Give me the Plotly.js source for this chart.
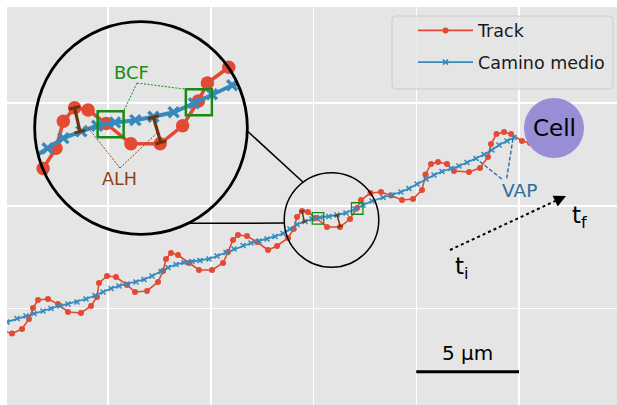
<!DOCTYPE html>
<html><head><meta charset="utf-8">
<script src="https://cdn.plot.ly/plotly-3.0.1.min.js"></script>
<style>html,body{margin:0;padding:0;background:#fff}#chart{width:617px;height:405px}</style>
</head><body><div id="chart"></div>
<script>
// ---- data (µm) ----
const trackX = [-0.158,0.328,0.815,1.156,1.350,1.594,2.080,2.567,3.054,3.686,4.173,4.465,4.562,4.951,5.389,5.925,6.314,6.898,7.433,7.676,7.822,8.066,8.406,8.942,9.428,10.061,10.596,10.839,11.083,11.326,11.764,12.251,12.786,13.224,13.759,14.037,14.197,14.440,14.732,15.122,15.657,16.290,16.776,17.117,17.311,17.774,18.285,18.771,19.307,19.842,20.280,20.450,20.718,21.058,21.496,21.837,22.567,23.102,23.492,23.638,23.905,24.270,24.611,25.146,25.535];
const trackY = [3.929,3.783,4.002,4.489,5.024,5.414,5.462,5.219,4.830,4.781,5.122,5.560,6.241,6.581,6.533,6.144,5.803,5.852,6.290,6.825,7.409,7.701,7.603,7.214,6.873,6.873,7.214,7.749,8.333,8.577,8.528,8.236,7.847,8.041,8.431,8.869,9.453,9.745,9.696,9.404,8.966,8.966,9.355,9.890,10.280,10.620,10.669,10.499,10.280,10.328,10.766,11.521,12.032,12.129,12.032,11.691,11.642,11.837,12.372,13.005,13.491,13.589,13.491,13.151,13.053];
const meanX = [-0.304,0.085,0.572,1.010,1.399,1.837,2.226,2.664,3.054,3.491,3.929,4.367,4.757,5.146,5.535,5.925,6.363,6.752,7.141,7.579,7.920,8.309,8.698,9.088,9.477,9.915,10.304,10.742,11.131,11.569,11.959,12.348,12.737,13.127,13.516,13.856,14.197,14.586,14.927,15.316,15.754,16.144,16.582,17.020,17.409,17.847,18.382,18.820,19.258,19.647,20.037,20.475,20.864,21.253,21.691,22.080,22.470,22.908,23.297,23.686,24.027,24.416,24.757];
const meanY = [4.221,4.343,4.513,4.635,4.757,4.878,5.000,5.122,5.219,5.316,5.462,5.633,5.803,5.973,6.095,6.192,6.290,6.411,6.581,6.800,6.995,7.141,7.238,7.287,7.336,7.409,7.555,7.725,7.895,8.066,8.187,8.285,8.382,8.504,8.650,8.869,9.088,9.234,9.355,9.428,9.477,9.550,9.647,9.842,10.036,10.231,10.401,10.523,10.669,10.839,11.058,11.302,11.496,11.667,11.813,11.934,12.105,12.299,12.494,12.713,12.956,13.151,13.321];
// BCF crossings (box centres)
const bcfX = [15.219, 17.127];
const bcfY = [9.389, 9.866];
// ALH bars: track end -> mean path end
const alhX1 = [14.440, 16.144], alhY1 = [9.745, 9.540];
const alhX2 = [14.557, 16.304], alhY2 = [9.229, 8.995];
// VAP pointer targets on mean path
const vapTargetX = [23.005, 24.723], vapTargetY = [12.226, 13.360];
// cell
const cellX = 26.703, cellY = 13.783, cellR = 1.46;
// time arrow
const arrowStart = [21.642, 7.847], arrowEnd = [27.287, 10.474];
// scale bar (5 µm)
const scaleX = [20, 25], scaleY = 1.925;
// zoom region
const zoomC = [15.876, 9.307], zoomR = 2.3, MAG = 2.25;
const insetC = [6.606, 13.783];
const labels = {track:'Track', mean:'Camino medio', cell:'Cell', vap:'VAP', bcf:'BCF', alh:'ALH', scale:'5 µm', ti:'t<sub>i</sub>', tf:'t<sub>f</sub>'};

// ---- layout geometry ----
const W = 617, H = 405, ML = 7, MT = 7;
const PW = W - ML, PH = H - MT;
const PXU = 20.55; // px per µm
const xr = [0.085, 0.085 + PW/PXU];
const yr = [0.304, 0.304 + PH/PXU];
const x2r = xr.map(v => zoomC[0] + (v - insetC[0]) / MAG);
const y2r = yr.map(v => zoomC[1] + (v - insetC[1]) / MAG);
const px2paperX = px => (px - ML) / PW;
const px2paperY = py => (H - py) / PH;

const RED = '#E24A33', BLUE = '#348ABD', GREEN = '#178a17', BROWN = '#8B4513', DBROWN = '#6e320c', VAPC = '#2d6c9c';

function clipLine(xs, ys, cx, cy, r) {
  const ox = [], oy = []; let open = false;
  for (let i = 0; i < xs.length - 1; i++) {
    const px = xs[i], py = ys[i], qx = xs[i+1], qy = ys[i+1];
    const dx = qx-px, dy = qy-py, fx = px-cx, fy = py-cy;
    const a = dx*dx+dy*dy, b = 2*(fx*dx+fy*dy), c = fx*fx+fy*fy-r*r;
    const disc = b*b-4*a*c;
    if (disc <= 0) { if (open) { ox.push(null); oy.push(null); open = false; } continue; }
    const s = Math.sqrt(disc);
    const ta = Math.max(0, (-b-s)/(2*a)), tb = Math.min(1, (-b+s)/(2*a));
    if (ta >= tb) { if (open) { ox.push(null); oy.push(null); open = false; } continue; }
    if (!open || ta > 0) {
      if (open) { ox.push(null); oy.push(null); }
      ox.push(px+ta*dx); oy.push(py+ta*dy); open = true;
    }
    ox.push(px+tb*dx); oy.push(py+tb*dy);
    if (tb < 1) { ox.push(null); oy.push(null); open = false; }
  }
  return [ox, oy];
}
function inside(xs, ys, cx, cy, r) {
  const ox = [], oy = [];
  xs.forEach((x, i) => { if (Math.hypot(x-cx, ys[i]-cy) <= r) { ox.push(x); oy.push(ys[i]); } });
  return [ox, oy];
}
function bars(x1, y1, x2, y2) {
  const x = [], y = [], ang = [];
  x1.forEach((v, i) => {
    const a = Math.atan2(-(x2[i]-v), (y1[i]-y2[i])) * 180/Math.PI;
    x.push(v, x2[i], null); y.push(y1[i], y2[i], null); ang.push(a, a, 0);
  });
  return {x, y, ang};
}

const trIn = clipLine(trackX, trackY, zoomC[0], zoomC[1], zoomR);
const trPts = inside(trackX, trackY, zoomC[0], zoomC[1], zoomR * 1.01);
const mnIn = clipLine(meanX, meanY, zoomC[0], zoomC[1], zoomR);
const mnPts = inside(meanX, meanY, zoomC[0], zoomC[1], zoomR);
const alh = bars(alhX1, alhY1, alhX2, alhY2);

const traces = [
  {x: trackX, y: trackY, mode: 'lines+markers', name: labels.track, legendgroup: 'a',
   line: {color: RED, width: 1.6}, marker: {color: RED, size: 6}},
  {x: meanX, y: meanY, mode: 'lines+markers', name: labels.mean, legendgroup: 'b',
   line: {color: BLUE, width: 1.8}, marker: {symbol: 'x-thin', size: 5, color: BLUE, line: {color: BLUE, width: 1.6}}},
  {x: alh.x, y: alh.y, mode: 'lines+markers', showlegend: false, hoverinfo: 'skip',
   line: {color: DBROWN, width: 1.5}, marker: {symbol: 'line-ew', size: 4, angle: alh.ang, line: {color: DBROWN, width: 1.5}}},
  {x: bcfX, y: bcfY, mode: 'markers', showlegend: false, hoverinfo: 'skip',
   marker: {symbol: 'square-open', size: 11.5, color: GREEN, line: {color: GREEN, width: 1.3}}},
  // inset (magnified)
  {x: trIn[0], y: trIn[1], xaxis: 'x2', yaxis: 'y2', mode: 'lines', showlegend: false, hoverinfo: 'skip',
   line: {color: RED, width: 3.5}},
  {x: trPts[0], y: trPts[1], xaxis: 'x2', yaxis: 'y2', mode: 'markers', showlegend: false, hoverinfo: 'skip',
   marker: {color: RED, size: 13.5}},
  {x: mnIn[0], y: mnIn[1], xaxis: 'x2', yaxis: 'y2', mode: 'lines', showlegend: false, hoverinfo: 'skip',
   line: {color: BLUE, width: 4}},
  {x: mnPts[0], y: mnPts[1], xaxis: 'x2', yaxis: 'y2', mode: 'markers', showlegend: false, hoverinfo: 'skip',
   marker: {symbol: 'x-thin', size: 10, color: BLUE, line: {color: BLUE, width: 3.4}}},
  {x: alh.x, y: alh.y, xaxis: 'x2', yaxis: 'y2', mode: 'lines+markers', showlegend: false, hoverinfo: 'skip',
   line: {color: DBROWN, width: 3.2}, marker: {symbol: 'line-ew', size: 8, angle: alh.ang, line: {color: DBROWN, width: 3}}},
  {x: bcfX, y: bcfY, xaxis: 'x2', yaxis: 'y2', mode: 'markers', showlegend: false, hoverinfo: 'skip',
   marker: {symbol: 'square-open', size: 26, color: GREEN, line: {color: GREEN, width: 2.5}}}
];

const h = 11.5 / 2 / PXU;
const bcfApex = [15.790, 10.280];
const alhApex = [15.422, 8.442];
const alhEnds = [[14.665, 9.394], [16.222, 9.199]];
const vapStart = [[24.158, 11.302], [24.401, 11.336]];

function onBig(theta) { const t = theta*Math.PI/180; return [insetC[0] + MAG*zoomR*Math.cos(t), insetC[1] + MAG*zoomR*Math.sin(t)]; }
function onSmall(theta) { const t = theta*Math.PI/180; return [zoomC[0] + zoomR*Math.cos(t), zoomC[1] + zoomR*Math.sin(t)]; }
const c1a = onBig(-1.6), c1b = onSmall(126.9), c2a = onBig(-63.7), c2b = onSmall(183.7);

function roundRect(x0, y0, x1, y1, r) {
  const X = px2paperX, Y = px2paperY;
  return `M${X(x0+r)},${Y(y0)} L${X(x1-r)},${Y(y0)} Q${X(x1)},${Y(y0)} ${X(x1)},${Y(y0+r)} ` +
         `L${X(x1)},${Y(y1-r)} Q${X(x1)},${Y(y1)} ${X(x1-r)},${Y(y1)} L${X(x0+r)},${Y(y1)} ` +
         `Q${X(x0)},${Y(y1)} ${X(x0)},${Y(y1-r)} L${X(x0)},${Y(y0+r)} Q${X(x0)},${Y(y0)} ${X(x0+r)},${Y(y0)} Z`;
}

const shapes = [
  {type: 'path', xref: 'paper', yref: 'paper', path: roundRect(392, 16, 613, 89, 4),
   fillcolor: 'rgba(229,229,229,0.8)', line: {color: '#cccccc', width: 1}},
  {type: 'circle', xref: 'x', yref: 'y', x0: cellX-cellR, x1: cellX+cellR, y0: cellY-cellR, y1: cellY+cellR,
   fillcolor: '#988ED5', line: {width: 0}},
  {type: 'circle', xref: 'x', yref: 'y', x0: zoomC[0]-zoomR, x1: zoomC[0]+zoomR, y0: zoomC[1]-zoomR, y1: zoomC[1]+zoomR,
   line: {color: '#000', width: 1.5}},
  {type: 'circle', xref: 'x2', yref: 'y2', x0: zoomC[0]-zoomR, x1: zoomC[0]+zoomR, y0: zoomC[1]-zoomR, y1: zoomC[1]+zoomR,
   line: {color: '#000', width: 2.8}},
  {type: 'line', xref: 'x', yref: 'y', x0: c1a[0], y0: c1a[1], x1: c1b[0], y1: c1b[1], line: {color: '#000', width: 1.5}},
  {type: 'line', xref: 'x', yref: 'y', x0: c2a[0], y0: c2a[1], x1: c2b[0], y1: c2b[1], line: {color: '#000', width: 1.5}},
  {type: 'line', xref: 'x2', yref: 'y2', x0: bcfApex[0], y0: bcfApex[1], x1: bcfX[0]+h, y1: bcfY[0]+h, line: {color: GREEN, width: 1, dash: '2px,1.5px'}},
  {type: 'line', xref: 'x2', yref: 'y2', x0: bcfApex[0], y0: bcfApex[1], x1: bcfX[1]-h, y1: bcfY[1]+h, line: {color: GREEN, width: 1, dash: '2px,1.5px'}},
  {type: 'line', xref: 'x2', yref: 'y2', x0: alhApex[0], y0: alhApex[1], x1: alhEnds[0][0], y1: alhEnds[0][1], line: {color: BROWN, width: 1, dash: '2px,1.5px'}},
  {type: 'line', xref: 'x2', yref: 'y2', x0: alhApex[0], y0: alhApex[1], x1: alhEnds[1][0], y1: alhEnds[1][1], line: {color: BROWN, width: 1, dash: '2px,1.5px'}},
  {type: 'line', xref: 'x', yref: 'y', x0: vapStart[0][0], y0: vapStart[0][1], x1: vapTargetX[0], y1: vapTargetY[0], line: {color: VAPC, width: 1.4, dash: '4px,2px'}},
  {type: 'line', xref: 'x', yref: 'y', x0: vapStart[1][0], y0: vapStart[1][1], x1: vapTargetX[1], y1: vapTargetY[1], line: {color: VAPC, width: 1.4, dash: '4px,2px'}},
  {type: 'line', xref: 'x', yref: 'y', x0: arrowStart[0], y0: arrowStart[1], x1: arrowEnd[0] - 0.25, y1: arrowEnd[1] - 0.116, line: {color: '#000', width: 2, dash: 'dot'}},
  {type: 'line', xref: 'x', yref: 'y', x0: scaleX[0], x1: scaleX[1], y0: scaleY, y1: scaleY, line: {color: '#000', width: 3}}
];

const F = 'DejaVu Sans, sans-serif';
const annotations = [
  {x: cellX, y: cellY, xref: 'x', yref: 'y', text: labels.cell, showarrow: false, font: {size: 23, color: '#000', family: F}},
  {x: 25.025, y: 10.766, xref: 'x', yref: 'y', text: labels.vap, showarrow: false, font: {size: 18.5, color: VAPC, family: F}},
  {x: 15.681, y: 10.497, xref: 'x2', yref: 'y2', text: labels.bcf, showarrow: false, font: {size: 18, color: GREEN, family: F}},
  {x: 15.400, y: 8.204, xref: 'x2', yref: 'y2', text: labels.alh, showarrow: false, font: {size: 17.6, color: BROWN, family: F}},
  {x: (scaleX[0]+scaleX[1])/2, y: 2.85, xref: 'x', yref: 'y', text: labels.scale, showarrow: false, font: {size: 20, color: '#000', family: F}},
  {x: 22.226, y: 6.971, xref: 'x', yref: 'y', text: labels.ti, showarrow: false, font: {size: 23, color: '#000', family: F}},
  {x: 27.920, y: 9.453, xref: 'x', yref: 'y', text: labels.tf, showarrow: false, font: {size: 23, color: '#000', family: F}},
  {x: arrowEnd[0], y: arrowEnd[1], ax: arrowEnd[0]-0.45, ay: arrowEnd[1]-0.21, xref: 'x', yref: 'y', axref: 'x', ayref: 'y',
   text: '', showarrow: true, arrowhead: 2, arrowsize: 1.5, arrowwidth: 1.6, arrowcolor: '#000', standoff: 0}
];

const axBase = {showgrid: true, gridcolor: '#ffffff', gridwidth: 1.5, zeroline: false, showline: false,
  showticklabels: false, ticks: '', dtick: 5, tick0: 0, autorange: false, fixedrange: true};
const layout = {
  width: W, height: H,
  margin: {l: ML, r: 0, t: MT, b: 0, pad: 0},
  paper_bgcolor: '#ffffff', plot_bgcolor: '#E5E5E5',
  font: {family: F, color: '#1a1a1a'},
  xaxis: Object.assign({}, axBase, {range: xr}),
  yaxis: Object.assign({}, axBase, {range: yr}),
  xaxis2: {overlaying: 'x', range: x2r, autorange: false, visible: false, fixedrange: true},
  yaxis2: {overlaying: 'y', range: y2r, autorange: false, visible: false, fixedrange: true},
  showlegend: true,
  legend: {x: px2paperX(413), y: px2paperY(12.5), xanchor: 'left', yanchor: 'top', bgcolor: 'rgba(0,0,0,0)',
    borderwidth: 0, font: {size: 17.5, color: '#1a1a1a', family: F},
    tracegroupgap: 6, itemwidth: 55},
  shapes, annotations
};
Plotly.newPlot('chart', traces, layout, {displayModeBar: false, staticPlot: true});
</script></body></html>
